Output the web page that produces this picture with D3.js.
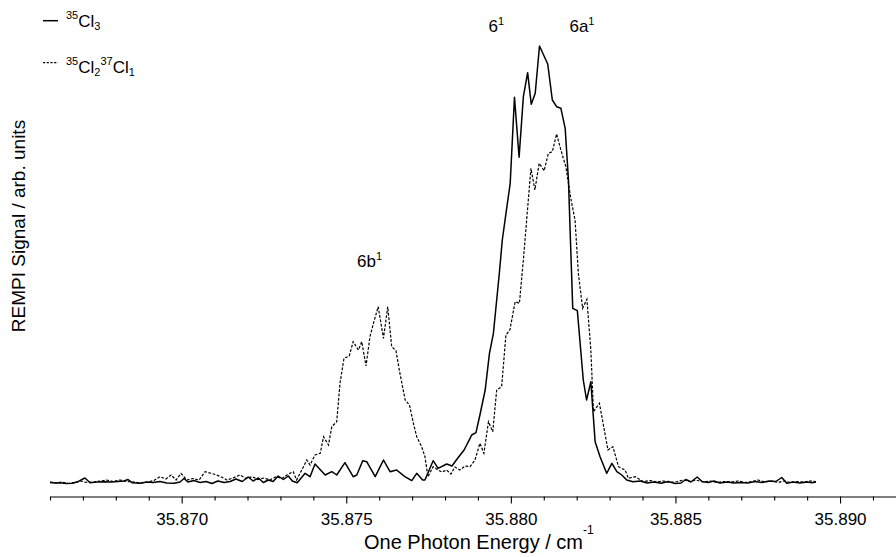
<!DOCTYPE html>
<html>
<head>
<meta charset="utf-8">
<script src="https://cdn.jsdelivr.net/npm/d3@7"></script>
<style>
  body { margin: 0; background: #fff; }
  text { font-family: Arial, "Liberation Sans", sans-serif; fill: #000; }
</style>
</head>
<body>
<script>
// 35Cl3 trace (solid)
const energyCl3 = [35.86600,35.86615,35.86630,35.86649,35.86667,35.86685,35.86706,35.86722,35.86743,35.86764,
  35.86785,35.86807,35.86825,35.86837,35.86849,35.86873,35.86895,35.86913,35.86934,35.86955,
  35.86977,35.86995,35.87007,35.87019,35.87037,35.87056,35.87074,35.87092,35.87110,35.87129,
  35.87147,35.87165,35.87184,35.87202,35.87217,35.87233,35.87248,35.87263,35.87278,35.87293,
  35.87309,35.87324,35.87336,35.87351,35.87375,35.87390,35.87405,35.87436,35.87456,35.87471,
  35.87496,35.87521,35.87532,35.87550,35.87562,35.87588,35.87613,35.87633,35.87653,35.87678,
  35.87699,35.87714,35.87732,35.87739,35.87764,35.87779,35.87805,35.87821,35.87839,35.87858,
  35.87876,35.87881,35.87894,35.87906,35.87922,35.87935,35.87947,35.87965,35.87974,35.87988,
  35.87998,35.88011,35.88025,35.88038,35.88051,35.88062,35.88074,35.88087,35.88112,35.88126,
  35.88139,35.88152,35.88165,35.88175,35.88181,35.88188,35.88202,35.88220,35.88230,35.88243,
  35.88256,35.88271,35.88291,35.88307,35.88322,35.88337,35.88352,35.88371,35.88393,35.88414,
  35.88435,35.88456,35.88478,35.88499,35.88517,35.88532,35.88547,35.88566,35.88581,35.88599,
  35.88617,35.88635,35.88657,35.88678,35.88699,35.88720,35.88742,35.88763,35.88784,35.88805,
  35.88823,35.88838,35.88857,35.88878,35.88900,35.88915,35.88927];
const signalCl3 = [0.5,0,0.3,-0.5,-0.3,1.3,5,0.3,1,1.3,
  1,1.5,2,3.5,0.3,-0.3,1,0.5,1.5,0,
  -0.3,1,4.5,1,2.5,0.5,1.5,-0.5,2,0.5,
  1.5,4,1.5,6,2,5,0.5,3,1.5,7,
  3.5,7,2,0.3,9.7,6.3,19,8,11.3,8,
  20.3,6.3,8,22.3,21.3,6.3,23,11.3,13,6.3,
  2.3,9.7,3,3,22.3,14.7,19,17,25,33,
  44.7,48,50.3,68,93,129.7,149.7,209.7,243,276.3,
  299.7,385.7,325.7,386.3,410.3,378.7,389.7,437,419,383,
  376.3,374.7,354.7,303,243,174.7,172.3,103,83,101.3,
  41.3,26.3,9.7,19.7,11.3,8,3,1.3,2,0,
  1,-0.3,1.5,-0.5,0,3.5,1,6,1.5,0.5,
  2,0,1,0,0.5,0,1.5,0.5,2,1.5,
  5.5,-0.3,1,0,1,0.3,1];

// 35Cl2 37Cl1 trace (dashed)
const energyMix = [35.86600,35.86618,35.86636,35.86655,35.86676,35.86694,35.86712,35.86734,35.86752,35.86772,
  35.86791,35.86813,35.86834,35.86855,35.86876,35.86898,35.86916,35.86934,35.86952,35.86968,
  35.86983,35.86998,35.87016,35.87034,35.87053,35.87071,35.87086,35.87102,35.87119,35.87138,
  35.87156,35.87177,35.87196,35.87214,35.87232,35.87250,35.87268,35.87287,35.87305,35.87320,
  35.87329,35.87339,35.87349,35.87365,35.87380,35.87390,35.87405,35.87421,35.87431,35.87446,
  35.87456,35.87471,35.87481,35.87493,35.87509,35.87521,35.87537,35.87547,35.87560,35.87572,
  35.87584,35.87597,35.87613,35.87626,35.87638,35.87651,35.87663,35.87679,35.87692,35.87704,
  35.87714,35.87729,35.87739,35.87748,35.87764,35.87779,35.87791,35.87805,35.87818,35.87830,
  35.87845,35.87861,35.87876,35.87891,35.87906,35.87918,35.87932,35.87945,35.87957,35.87972,
  35.87985,35.87997,35.88013,35.88026,35.88038,35.88043,35.88061,35.88073,35.88086,35.88101,
  35.88114,35.88126,35.88139,35.88152,35.88167,35.88183,35.88195,35.88205,35.88218,35.88231,
  35.88243,35.88251,35.88269,35.88295,35.88310,35.88327,35.88347,35.88357,35.88378,35.88403,
  35.88423,35.88445,35.88463,35.88484,35.88505,35.88526,35.88544,35.88562,35.88584,35.88605,
  35.88626,35.88647,35.88669,35.88690,35.88711,35.88733,35.88751,35.88772,35.88793,35.88812,
  35.88830,35.88848,35.88869,35.88890,35.88909,35.88927];
const signalMix = [1,0,1,-0.5,0.5,2,0.5,1,2,3,
  1.5,3,1.5,1,0,1,2.5,6.3,4,8,
  3,9.5,3,4.5,3,11.3,10,8.5,6.3,3,
  5,8,4.5,6.3,3.5,5,3,6.3,4.5,8,
  9.7,11.3,3,13,23,18,28,29.7,46.3,38,
  56.3,61.3,99.7,124.7,127,141.3,133,141.3,117,146.3,
  161.3,176.3,144.7,176.3,136.3,132.3,109.7,83,78,59.7,
  46.3,36.3,26.3,6.3,16.3,13,11,13,9,16,
  13,17,16.3,23,39.7,29.7,61.3,51.3,93,96.3,
  148,153,181.3,179.7,223,243,314.7,293,319.7,312.3,
  329.7,331.3,349,333,316.3,283,263,209.7,174.7,183.7,
  133,71.3,79.7,33,36.3,16.3,13,4.7,6.3,1.3,
  2.5,1,2,0.5,1.5,3,1.5,3,1,2,
  0.5,1.5,1,2,0.5,1.5,3,1,2,0.5,
  2,0.5,1.5,1,2,1.5];

const majorTicks = [35.870, 35.875, 35.880, 35.885, 35.890];
const minorTicks = [35.866, 35.867, 35.868, 35.869, 35.871, 35.872, 35.873, 35.874,
  35.876, 35.877, 35.878, 35.879, 35.881, 35.882, 35.883, 35.884,
  35.886, 35.887, 35.888, 35.889, 35.891];

const peakNames = ["6b", "6", "6a"];
const peakEnergy = [35.87571, 35.87956, 35.88216];
const peakSignal = [216, 451, 451];

const W = 896, H = 557;
const svg = d3.select("body").append("svg").attr("width", W).attr("height", H);

const x = d3.scaleLinear().domain([35.866, 35.8917]).range([50, 896]);
const y = d3.scaleLinear().domain([0, 437]).range([483, 46]);

// x axis
const axisY = 496.5;
const gx = svg.append("g").attr("transform", `translate(0,${axisY})`)
  .call(d3.axisBottom(x).tickValues(majorTicks).tickSize(7).tickSizeOuter(0)
    .tickPadding(9).tickFormat(d3.format(".3f")));
gx.selectAll("text").attr("font-size", 17).attr("font-family", "Arial, 'Liberation Sans', sans-serif");
gx.select(".domain").attr("stroke-width", 1.1);
gx.selectAll(".tick line").attr("stroke-width", 1.1);

svg.append("g").attr("transform", `translate(0,${axisY})`)
  .call(d3.axisBottom(x).tickValues(minorTicks).tickSize(4).tickFormat(""))
  .call(g => g.select(".domain").remove())
  .selectAll(".tick line").attr("stroke-width", 1.1);

// traces
const line = d3.line().x(d => x(d[0])).y(d => y(d[1]));

svg.append("path")
  .datum(d3.zip(energyMix, signalMix))
  .attr("d", line)
  .attr("fill", "none")
  .attr("stroke", "#000")
  .attr("stroke-width", 1.2)
  .attr("stroke-dasharray", "2.8,1.6");

svg.append("path")
  .datum(d3.zip(energyCl3, signalCl3))
  .attr("d", line)
  .attr("fill", "none")
  .attr("stroke", "#000")
  .attr("stroke-width", 1.5)
  .attr("stroke-linejoin", "round");

// text with super/subscripts; parts = [text, vertical shift, font size]
function richText(g, px, py, parts, size, anchor) {
  const t = g.append("text").attr("x", px).attr("y", py)
    .attr("font-size", size).attr("text-anchor", anchor || "start");
  let prev = 0;
  parts.forEach(([str, shift, fs]) => {
    t.append("tspan").attr("dy", shift - prev).attr("font-size", fs || size).text(str);
    prev = shift;
  });
  return t;
}

// legend
svg.append("line").attr("x1", 43).attr("x2", 58).attr("y1", 20.7).attr("y2", 20.7)
  .attr("stroke", "#000").attr("stroke-width", 1.5);
svg.append("line").attr("x1", 43).attr("x2", 58).attr("y1", 62.7).attr("y2", 62.7)
  .attr("stroke", "#000").attr("stroke-width", 1.2).attr("stroke-dasharray", "2.2,1.5");
richText(svg, 66, 26.7, [["35", -7.5, 11], ["Cl", 0], ["3", 3, 11]], 17);
richText(svg, 66, 72.7, [["35", -7.5, 11], ["Cl", 0], ["2", 3, 11], ["37", -7.5, 11], ["Cl", 0], ["1", 3, 11]], 17);

// peak labels
peakNames.forEach((n, i) => {
  richText(svg, x(peakEnergy[i]), y(peakSignal[i]), [[n, 0], ["1", -7, 11]], 17, "middle");
});

// axis titles
richText(svg, 364, 549, [["One Photon Energy / cm", 0], ["-1", -15, 12]], 20);

svg.append("text")
  .attr("transform", "translate(25,226) rotate(-90)")
  .attr("text-anchor", "middle")
  .attr("font-size", 19)
  .text("REMPI Signal / arb. units");
</script>
</body>
</html>
